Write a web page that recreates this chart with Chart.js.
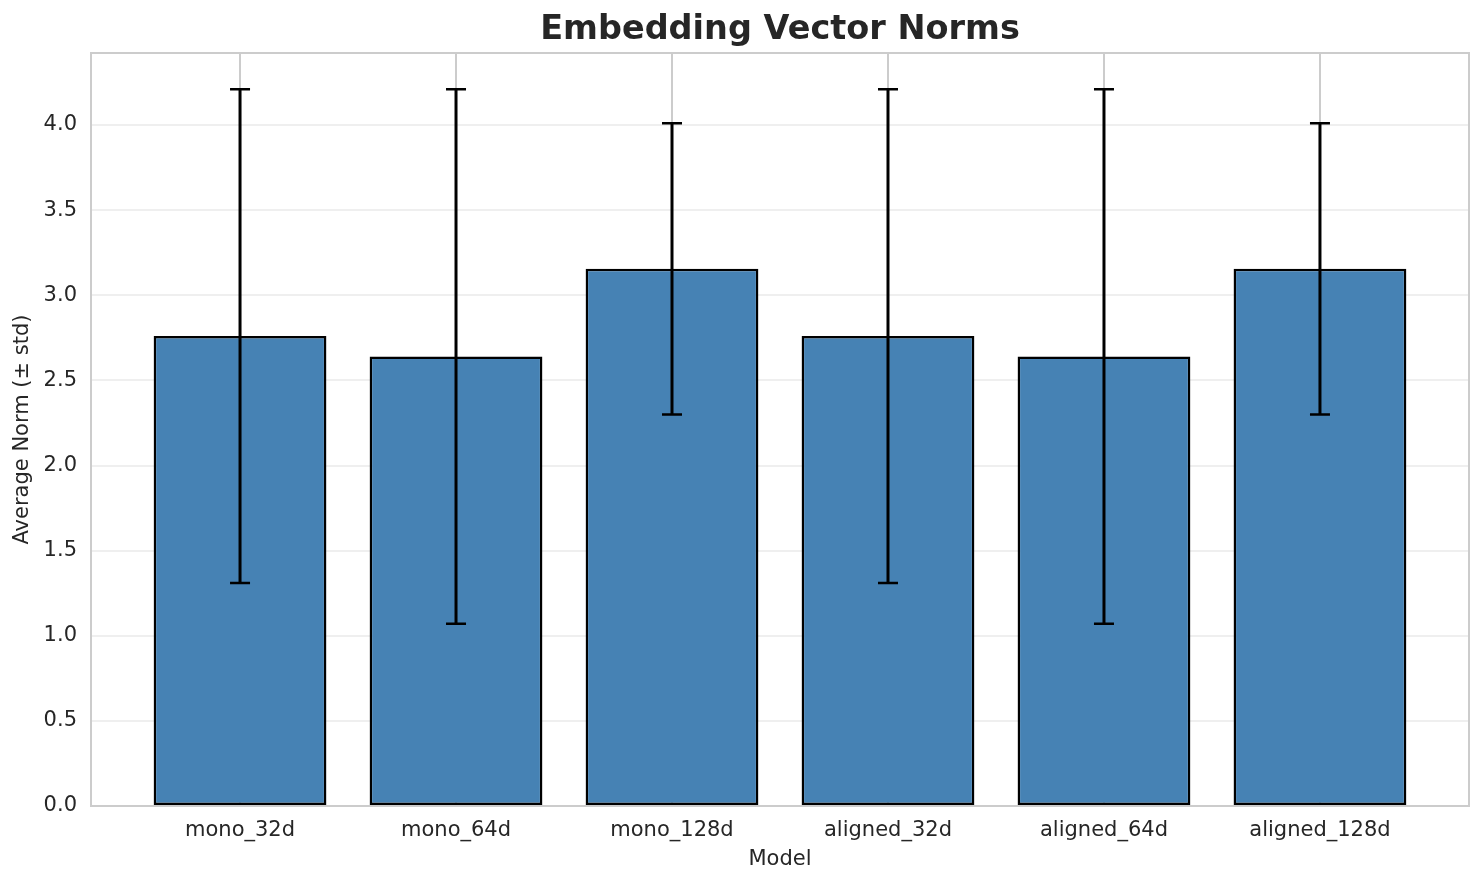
<!DOCTYPE html>
<html>
<head>
<meta charset="utf-8">
<title>Embedding Vector Norms</title>
<script src="https://cdn.jsdelivr.net/npm/chart.js@4/dist/chart.umd.min.js"></script>
<style>
  html, body { margin: 0; padding: 0; background: #fff; }
  #chart { display: block; }
</style>
</head>
<body>
<canvas id="chart" width="1484" height="885"></canvas>
<script>
// Data
const models = ['mono_32d', 'mono_64d', 'mono_128d', 'aligned_32d', 'aligned_64d', 'aligned_128d'];
const meanNorms = [2.76, 2.64, 3.155, 2.76, 2.64, 3.155];
const stdNorms = [1.45, 1.57, 0.855, 1.45, 1.57, 0.855];
const yTickStep = 0.5;

const TEXT = '#262626';
const FONT = "'DejaVu Sans', sans-serif";
const TITLE = 'Embedding Vector Norms';

// error bars drawn through the chart's own scales
const errorBarPlugin = {
  id: 'errorBars',
  afterDatasetsDraw(chart) {
    const { ctx, scales: { x, y } } = chart;
    ctx.save();
    ctx.strokeStyle = '#000';
    ctx.lineCap = 'butt';
    meanNorms.forEach((m, i) => {
      const px = x.getPixelForValue(i);
      const top = y.getPixelForValue(m + stdNorms[i]);
      const bot = y.getPixelForValue(m - stdNorms[i]);
      ctx.lineWidth = 3;
      ctx.beginPath();
      ctx.moveTo(px, top);
      ctx.lineTo(px, bot);
      ctx.stroke();
      ctx.lineWidth = 2.5;
      ctx.beginPath();
      ctx.moveTo(px - 10, top);
      ctx.lineTo(px + 10, top);
      ctx.moveTo(px - 10, bot);
      ctx.lineTo(px + 10, bot);
      ctx.stroke();
    });
    ctx.restore();
  }
};

// box around the plot area (matplotlib spines) + title centred over the axes
const framePlugin = {
  id: 'frame',
  afterDraw(chart) {
    const { ctx, chartArea: a } = chart;
    ctx.save();
    ctx.strokeStyle = '#cccccc';
    ctx.lineWidth = 2;
    ctx.strokeRect(a.left, a.top, a.right - a.left, a.bottom - a.top);
    ctx.fillStyle = TEXT;
    ctx.font = `bold 33.5px ${FONT}`;
    ctx.textAlign = 'center';
    ctx.textBaseline = 'middle';
    ctx.fillText(TITLE, (a.left + a.right) / 2, 30);
    ctx.restore();
  }
};

new Chart(document.getElementById('chart'), {
  type: 'bar',
  data: {
    datasets: [{
      data: meanNorms.map((v, i) => ({ x: i, y: v })),
      backgroundColor: '#4682b4',
      borderColor: '#000000',
      borderWidth: 2.5,
      borderSkipped: false,
      categoryPercentage: 1,
      barPercentage: 0.8
    }]
  },
  options: {
    responsive: false,
    animation: false,
    devicePixelRatio: 1,
    layout: { padding: { left: 0, right: 15, top: 53, bottom: 0 } },
    plugins: {
      legend: { display: false },
      tooltip: { enabled: false },
      title: { display: false }
    },
    scales: {
      x: {
        type: 'linear',
        min: -0.69,
        max: 5.69,
        offset: false,
        afterFit(scale) { scale.height = 79; },
        grid: { color: '#cccccc', lineWidth: 2, drawTicks: false, offset: false },
        border: { color: '#cccccc', width: 2 },
        ticks: {
          stepSize: 1,
          includeBounds: false,
          autoSkip: false,
          maxRotation: 0,
          padding: 12,
          color: TEXT,
          font: { family: FONT, size: 21 },
          callback: v => (Number.isInteger(v) && models[v]) ? models[v] : ''
        },
        title: {
          display: true,
          text: 'Model',
          color: TEXT,
          font: { family: FONT, size: 21, lineHeight: 1.2 },
          padding: { top: 0, bottom: 12.4 }
        }
      },
      y: {
        min: 0,
        max: 4.423,
        afterFit(scale) { scale.width = 91; },
        grid: { color: '#efefef', lineWidth: 2, drawTicks: false },
        border: { color: '#cccccc', width: 2 },
        ticks: {
          stepSize: yTickStep,
          includeBounds: false,
          padding: 14,
          color: TEXT,
          font: { family: FONT, size: 21 },
          callback: v => v.toFixed(1)
        },
        title: {
          display: true,
          text: 'Average Norm (± std)',
          color: TEXT,
          font: { family: FONT, size: 21, lineHeight: 1.2 },
          padding: { top: 10.4, bottom: 0 }
        }
      }
    }
  },
  plugins: [errorBarPlugin, framePlugin]
});
</script>
</body>
</html>
